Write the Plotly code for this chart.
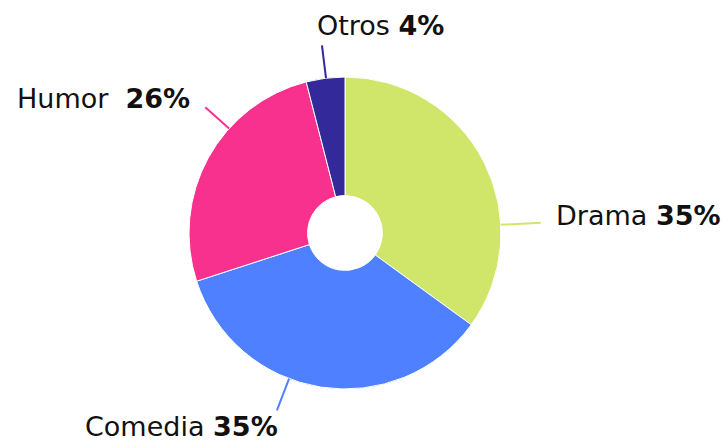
import math
import plotly.graph_objects as go

# ---- data ----
categories = ["Drama", "Comedia", "Humor", "Otros"]
values = [35, 35, 26, 4]
colors = ["#d0e66a", "#4f80ff", "#f8318e", "#33299a"]

# ---- layout / style ----
W, H = 723, 446
CX, CY, R = 345, 233, 156          # pie centre and radius in px
HOLE = 0.24
# label leader angle (deg clockwise from 12 o'clock), leader length, text offset & anchor
label_angles = [87, 201, 312, 353]
leader_len = [40, 34, 32, 33]
text_dx = [13, 3, -13, -7]
text_dy = [-7, 16, -9, -20]
text_anchor = ["left", "right", "right", "left"]
label_fmt = ["{} <b>{}%</b>", "{} <b>{}%</b>", "{}  <b>{}%</b>", "{} <b>{}%</b>"]
FONT = "DejaVu Sans"
FSIZE = 27

fig = go.Figure()
fig.add_trace(go.Pie(
    labels=categories, values=values, sort=False, direction="clockwise",
    rotation=0, hole=HOLE, textinfo="none", hoverinfo="label+percent",
    marker=dict(colors=colors, line=dict(color="white", width=1)),
    domain=dict(x=[(CX - R) / W, (CX + R) / W], y=[1 - (CY + R) / H, 1 - (CY - R) / H]),
    showlegend=False,
))

total = sum(values)
shapes, annotations = [], []
for i, cat in enumerate(categories):
    a = math.radians(label_angles[i])
    sx, sy = CX + R * math.sin(a), CY - R * math.cos(a)
    ex, ey = CX + (R + leader_len[i]) * math.sin(a), CY - (R + leader_len[i]) * math.cos(a)
    shapes.append(dict(type="line", xref="paper", yref="paper",
                       x0=sx / W, y0=1 - sy / H, x1=ex / W, y1=1 - ey / H,
                       line=dict(color=colors[i], width=2)))
    pct = round(values[i] / total * 100)
    annotations.append(dict(
        x=(ex + text_dx[i]) / W, y=1 - (ey + text_dy[i]) / H, xref="paper", yref="paper",
        xanchor=text_anchor[i], yanchor="middle", showarrow=False,
        text=label_fmt[i].format(cat, pct),
        font=dict(family=FONT, size=FSIZE, color="#111111"),
    ))

fig.update_layout(
    width=W, height=H, margin=dict(l=0, r=0, t=0, b=0),
    paper_bgcolor="white", plot_bgcolor="white",
    shapes=shapes, annotations=annotations,
)
fig.write_html("out.html", config={"displayModeBar": False},
               post_script="document.body.style.margin='0';document.body.style.overflow='hidden';")
